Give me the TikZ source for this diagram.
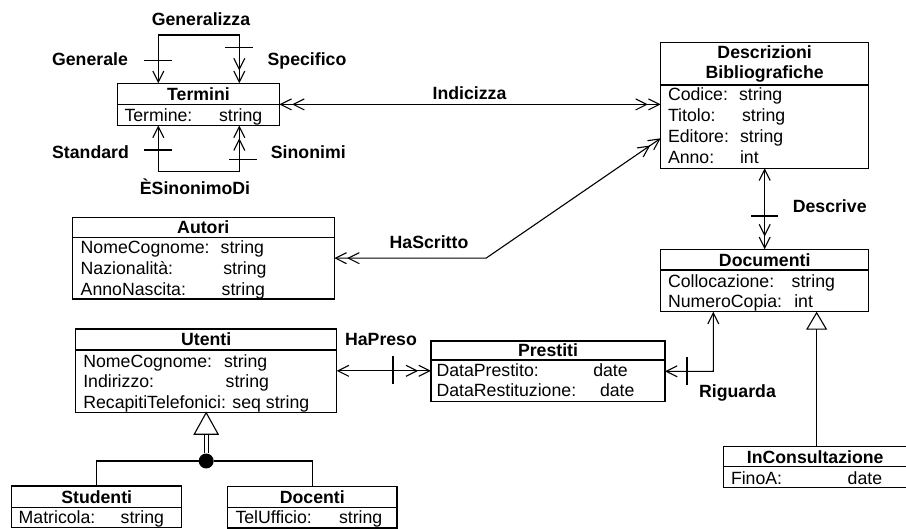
\documentclass[tikz,border=0pt]{standalone}
\usepackage{fontspec}
\setmainfont{Liberation Sans}
\usetikzlibrary{arrows.meta}

\begin{document}
\begin{tikzpicture}[x=1pt,y=-1pt,
  >={Straight Barb[length=11pt,width=11pt]},
  txt/.style={inner sep=0pt, outer sep=0pt, text height=12.7pt, text depth=0pt,
              font=\fontsize{17.7}{21}\selectfont},
  att/.style={txt, anchor=west},
  ttl/.style={txt, font=\fontsize{17.7}{21}\selectfont\bfseries},
  cls/.style={draw, line width=1.3pt, inner sep=0pt, outer sep=0pt},
  sepline/.style={line width=1.3pt},
  conn/.style={line width=1.1pt},
  tick/.style={line width=1.1pt},
  gentip/.style={-{Triangle[open,length=18pt,width=21pt,line width=1.1pt]}}
]
\useasboundingbox (0,0) rectangle (906,529);

% class box: name, x1, y1, x2, y2, y of the header separator
\newcommand\umlbox[6]{%
  \node[cls, minimum width={#4-#2}, minimum height={#5-#3}]
    (#1) at ({(#2+#4)/2},{(#3+#5)/2}) {};
  \draw[sepline] (#1.west |- 0,#6) -- (#1.east |- 0,#6);
}

% ---------- classes ----------
\umlbox{termini}{117.7}{83.3}{279.3}{125.5}{104.5}
\node[ttl] (termini-h) at (198.5,94) {Termini};
\node[att] (termini-a1) at (124.5,115) {Termine:};
\node[att] (termini-v1) at (219,115) {string};

\umlbox{descr}{660.7}{42.3}{868.7}{168.3}{85}
\node[ttl] (descr-h1) at (764.7,52) {Descrizioni};
\node[ttl] (descr-h2) at (764.7,72.5) {Bibliografiche};
\node[att] (descr-a1) at (668,94.5) {Codice:};
\node[att] (descr-v1) at (739,94.5) {string};
\node[att] (descr-a2) at (668,115) {Titolo:};
\node[att] (descr-v2) at (742,115) {string};
\node[att] (descr-a3) at (668,136) {Editore:};
\node[att] (descr-v3) at (740,136) {string};
\node[att] (descr-a4) at (668,157) {Anno:};
\node[att] (descr-v4) at (740,157) {int};

\umlbox{autori}{72.3}{217.3}{334.3}{299}{237.3}
\node[ttl] (autori-h) at (203.3,227.3) {Autori};
\node[att] (autori-a1) at (80.7,247.5) {NomeCognome:};
\node[att] (autori-v1) at (220.7,247.5) {string};
\node[att] (autori-a2) at (80.7,268.3) {Nazionalità:};
\node[att] (autori-v2) at (223.3,268.3) {string};
\node[att] (autori-a3) at (80.7,289) {AnnoNascita:};
\node[att] (autori-v3) at (221.7,289) {string};

\umlbox{docs}{660.7}{249.3}{868.7}{311.7}{270}
\node[ttl] (docs-h) at (764.7,259.7) {Documenti};
\node[att] (docs-a1) at (668,280.7) {Collocazione:};
\node[att] (docs-v1) at (791.7,280.7) {string};
\node[att] (docs-a2) at (668,300.7) {NumeroCopia:};
\node[att] (docs-v2) at (794.3,300.7) {int};

\umlbox{utenti}{75.7}{329}{336.7}{412.7}{350}
\node[ttl] (utenti-h) at (206.2,339.5) {Utenti};
\node[att] (utenti-a1) at (83.3,361) {NomeCognome:};
\node[att] (utenti-v1) at (224,361) {string};
\node[att] (utenti-a2) at (83.3,381.5) {Indirizzo:};
\node[att] (utenti-v2) at (225.7,381.5) {string};
\node[att] (utenti-a3) at (83.3,402.5) {RecapitiTelefonici: seq string};

\umlbox{prestiti}{431}{341}{665}{401.7}{360}
\node[ttl] (prestiti-h) at (548,350.5) {Prestiti};
\node[att] (prestiti-a1) at (436.5,370.5) {DataPrestito:};
\node[att] (prestiti-v1) at (593.3,370.5) {date};
\node[att] (prestiti-a2) at (436.5,390.5) {DataRestituzione:};
\node[att] (prestiti-v2) at (600,390.5) {date};

\umlbox{incons}{723.3}{446.7}{910}{487.7}{466.7}
\node[ttl] (incons-h) at (815.2,456.7) {InConsultazione};
\node[att] (incons-a1) at (731,477.7) {FinoA:};
\node[att] (incons-v1) at (847.7,477.7) {date};

\umlbox{studenti}{11.7}{486}{181.7}{527.7}{507.3}
\node[ttl] (studenti-h) at (96.7,497) {Studenti};
\node[att] (studenti-a1) at (18.7,517) {Matricola:};
\node[att] (studenti-v1) at (120.7,517) {string};

\umlbox{docenti}{227.7}{486.5}{397}{528}{507.3}
\node[ttl] (docenti-h) at (312.3,497) {Docenti};
\node[att] (docenti-a1) at (235.5,517) {TelUfficio:};
\node[att] (docenti-v1) at (339,517) {string};

% ---------- self associations on Termini ----------
\coordinate (gl) at (158.3,35);
\coordinate (gr) at (239.3,35);
\draw[conn,<->>] (termini.north -| gl) -- (gl) -- (gr) -- (termini.north -| gr);
\draw[tick] ([xshift=-14pt]gl |- 0,60.7) -- ([xshift=14pt]gl |- 0,60.7);
\draw[tick] ([xshift=-14pt]gr |- 0,47.3) -- ([xshift=14pt]gr |- 0,47.3);

\coordinate (sl) at (158.3,171.7);
\coordinate (sr) at (239.3,171.7);
\draw[conn,<->>] (termini.south -| sl) -- (sl) -- (sr) -- (termini.south -| sr);
\draw[tick] ([xshift=-14pt]sl |- 0,150) -- ([xshift=14pt]sl |- 0,150);
\draw[tick] ([xshift=-10pt]sr |- 0,159.3) -- ([xshift=18pt]sr |- 0,159.3);

\node[ttl] (generalizza) at (201,19.3) {Generalizza};
\node[ttl] (generale) at (90,59.3) {Generale};
\node[ttl] (specifico) at (307,59.3) {Specifico};
\node[ttl] (standard) at (90.5,151.7) {Standard};
\node[ttl] (sinonimi) at (308.3,151.7) {Sinonimi};
\node[ttl] (esinonimodi) at (195,188.3) {ÈSinonimoDi};

% ---------- associations ----------
\draw[conn,<<->>] (termini.east) -- (termini.east -| descr.west);
\node[ttl] (indicizza) at (469.5,93.3) {Indicizza};

\coordinate (hsbend) at (486,258.2);
\draw[conn,<<->>] (autori.east) -- (hsbend) -- (descr.west |- 0,138.3);
\node[ttl] (hascritto) at (429,241.7) {HaScritto};

\draw[conn,<->>] (descr.south) -- (docs.north);
\draw[tick] ([xshift=-13.5pt]descr.south |- 0,216) -- ([xshift=13.5pt]descr.south |- 0,216);
\node[ttl] (descrive) at (829.7,205.7) {Descrive};

\draw[conn,<->>] (utenti.east) -- (utenti.east -| prestiti.west);
\draw[tick] (393,356) -- (393,384);
\node[ttl] (hapreso) at (381,339.5) {HaPreso};

\coordinate (rgcorner) at (713.3,371.3);
\draw[conn,<->] (prestiti.east) -- (rgcorner) -- (rgcorner |- docs.south);
\draw[tick] (687,357) -- (687,385);
\node[ttl] (riguarda) at (737.5,390.7) {Riguarda};

% ---------- generalisations ----------
\draw[conn,gentip] (incons.north) -- (incons.north |- docs.south);

\node[circle, fill=black, minimum size=15pt, inner sep=0pt] (gen) at (206.2,461) {};
\coordinate (utri) at ([yshift=-21.6pt]utenti.south);
\draw[line width=1pt, double, double distance=3.4pt] (gen) -- (utri);
\draw[conn, fill=white, line join=miter] (utenti.south) -- ++(-12,21.6) -- ++(24,0) -- cycle;
\draw[conn] (studenti.north) |- (gen);
\draw[conn] (docenti.north) |- (gen);

\end{tikzpicture}
\end{document}
